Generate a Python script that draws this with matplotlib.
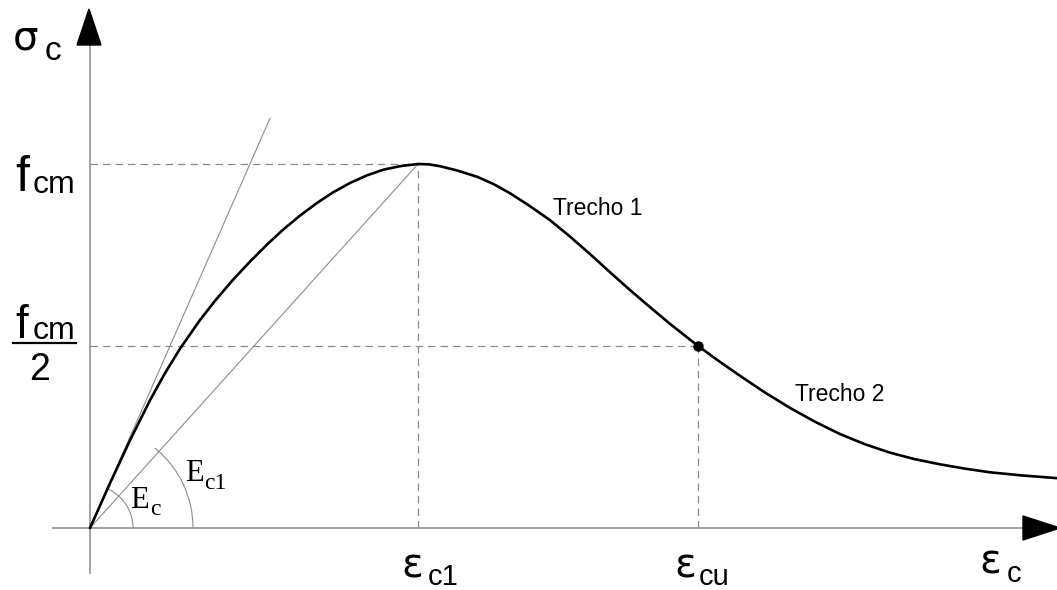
import numpy as np
import matplotlib
matplotlib.use('Agg')
import matplotlib.pyplot as plt
from matplotlib.patches import Arc, Polygon

# Curva tensao-deformacao do betao (normalizada: eps/eps_c1 , sigma/f_cm)
eta_curve = [0.0, 0.061, 0.122, 0.183, 0.229, 0.274, 0.335, 0.381, 0.436, 0.488,
             0.540, 0.588, 0.640, 0.692, 0.741, 0.793, 0.845, 0.893, 0.945, 1.0,
             1.033, 1.067, 1.120, 1.180, 1.230, 1.280, 1.340, 1.402, 1.463, 1.524,
             1.585, 1.646, 1.707, 1.768, 1.854, 1.918, 1.982, 2.058, 2.134, 2.210,
             2.287, 2.363, 2.439, 2.515, 2.591, 2.668, 2.744, 2.846, 2.948]
sig_curve = [0.0, 0.123, 0.241, 0.351, 0.426, 0.492, 0.571, 0.624, 0.682, 0.732,
             0.779, 0.819, 0.858, 0.893, 0.922, 0.948, 0.969, 0.984, 0.994, 1.0,
             0.999, 0.994, 0.982, 0.965, 0.945, 0.920, 0.885, 0.846, 0.801, 0.753,
             0.703, 0.654, 0.607, 0.561, 0.5, 0.458, 0.418, 0.372, 0.330, 0.292,
             0.258, 0.230, 0.207, 0.189, 0.175, 0.163, 0.153, 0.144, 0.137]

# pontos caracteristicos
eps_c1 = 1.0
eps_cu = 1.854
f_cm = 1.0
f_cm_half = 0.5
# tangente na origem (Ec) e secante ate ao pico (Ec1)
tan_end = [0.549, 1.126]
sec_end = [eps_c1, f_cm]

# escala: pixels da figura <-> unidades normalizadas
W, H = 1057, 590
X0, Y0 = 90, 528
SX, SY = 328, 364

def P(x, y):
    return (x - X0) / SX, (Y0 - y) / SY

plt.rcParams['font.family'] = ['Liberation Sans', 'DejaVu Sans']

fig = plt.figure(figsize=(W / 100, H / 100), dpi=100)
ax = fig.add_axes([0, 0, 1, 1])
ax.set_xlim(P(0, 0)[0], P(W, 0)[0])
ax.set_ylim(P(0, H)[1], P(0, 0)[1])
ax.axis('off')

grey = '#9a9a9a'
thin = '#8c8c8c'

# eixos com setas
ax.plot([P(53, 0)[0], P(1023, 0)[0]], [0, 0], color=grey, lw=1.3, zorder=1)
ax.plot([0, 0], [P(0, 573)[1], P(0, 45)[1]], color=grey, lw=1.3, zorder=1)
ax.add_patch(Polygon([P(1023, 516), P(1023, 540), P(1060, 528)], closed=True, color='black'))
ax.add_patch(Polygon([P(77, 45), P(101, 45), P(89, 9)], closed=True, color='black'))

# linhas de chamada tracejadas
dash = dict(color=thin, lw=0.9, dashes=(6, 4))
ax.plot([0, eps_c1], [f_cm, f_cm], **dash)
ax.plot([eps_c1, eps_c1], [0, f_cm], **dash)
ax.plot([0, eps_cu], [f_cm_half, f_cm_half], **dash)
ax.plot([eps_cu, eps_cu], [0, f_cm_half], **dash)

# tangente e secante
ax.plot([0, tan_end[0]], [0, tan_end[1]], color=thin, lw=0.8)
ax.plot([0, sec_end[0]], [0, sec_end[1]], color=thin, lw=0.8)

# arcos dos angulos
ang_tan = np.degrees(np.arctan2(tan_end[1] * SY, tan_end[0] * SX))
ang_sec = np.degrees(np.arctan2(sec_end[1] * SY, sec_end[0] * SX))
ax.add_patch(Arc((0, 0), 2 * 43 / SX, 2 * 43 / SY, theta1=0, theta2=ang_tan, color=thin, lw=0.8))
ax.add_patch(Arc((0, 0), 2 * 103 / SX, 2 * 103 / SY, theta1=0, theta2=ang_sec, color=thin, lw=0.8))

# curva
ax.plot(eta_curve, sig_curve, color='black', lw=1.9, solid_capstyle='round',
        solid_joinstyle='round', zorder=3)
ax.plot([eps_cu], [f_cm_half], 'o', color='black', ms=6.5, zorder=4)

# textos
def txt(px, py, s, size, **kw):
    ax.text(*P(px, py), s, fontsize=size, ha=kw.pop('ha', 'left'), va='baseline', **kw)

greek = ['DejaVu Sans']
txt(13, 50, 'σ', 29, family=greek)
txt(45, 60, 'c', 24)

txt(15, 191, 'f', 36)
txt(33, 193, 'cm', 23)

txt(15, 338, 'f', 33)
txt(33, 339, 'cm', 23)
ax.plot([P(13, 0)[0], P(76, 0)[0]], [P(0, 343)[1]] * 2, color='black', lw=1.6)
txt(40, 380, '2', 27, ha='center')

txt(401, 577, 'ε', 29, family=greek)
txt(428, 585, 'c1', 21)
txt(674, 577, 'ε', 29, family=greek)
txt(699, 585, 'cu', 21)
txt(979, 574, 'ε', 29, family=greek)
txt(1007, 582, 'c', 21)

serif = ['Liberation Serif', 'DejaVu Serif']
txt(130, 508, 'E', 22, family=serif)
txt(150, 515, 'c', 17, family=serif)
txt(185, 481, 'E', 22, family=serif)
txt(204, 489, 'c1', 17, family=serif)

txt(553, 215, 'Trecho 1', 16.5)
txt(795, 401, 'Trecho 2', 16.5)

fig.savefig('out.png', dpi=100, facecolor='white')
